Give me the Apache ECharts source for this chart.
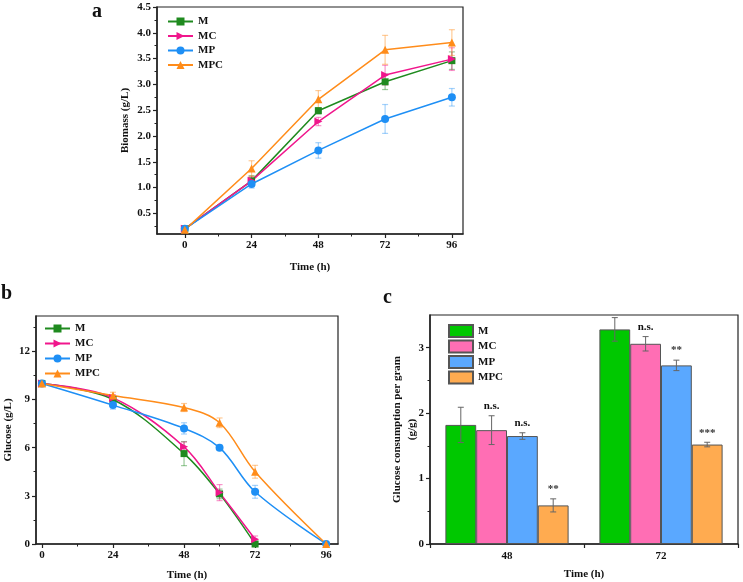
<!DOCTYPE html>
<html>
<head>
<meta charset="utf-8">
<script src="https://cdn.jsdelivr.net/npm/echarts@6/dist/echarts.min.js"></script>
<style>html,body{margin:0;padding:0;background:#fff;}#c{width:743px;height:582px;}</style>
</head>
<body>
<div id="c"></div>
<script>
// ---------- DATA ----------
var groups = ['M', 'MC', 'MP', 'MPC'];

// Panel a: biomass (g/L)
var bioTimes = [0, 24, 48, 72, 96];
var bioM   = [0.20, 1.13, 2.49, 3.05, 3.46];
var bioMC  = [0.20, 1.13, 2.28, 3.18, 3.49];
var bioMP  = [0.20, 1.07, 1.72, 2.33, 2.75];
var bioMPC = [0.18, 1.37, 2.71, 3.67, 3.81];
var bioErrM   = [0.03, 0.10, 0.06, 0.15, 0.17];
var bioErrMC  = [0.03, 0.08, 0.08, 0.19, 0.22];
var bioErrMP  = [0.03, 0.08, 0.15, 0.28, 0.17];
var bioErrMPC = [0.03, 0.15, 0.17, 0.28, 0.25];
var bioYTicks = [0.5, 1.0, 1.5, 2.0, 2.5, 3.0, 3.5, 4.0, 4.5];
var bioYMinor = [0.25, 0.75, 1.25, 1.75, 2.25, 2.75, 3.25, 3.75, 4.25];

// Panel b: glucose (g/L)
var glcTimesShort = [0, 24, 48, 60, 72];
var glcTimesLong  = [0, 24, 48, 60, 72, 96];
var glcM   = [10.0, 9.0, 5.63, 3.12, 0.0];
var glcMC  = [10.0, 9.1, 6.05, 3.2, 0.3];
var glcMP  = [10.0, 8.65, 7.2, 6.0, 3.25, 0.0];
var glcMPC = [10.0, 9.25, 8.5, 7.55, 4.5, 0.0];
var glcErrM   = [0.15, 0.2, 0.75, 0.3, 0.1];
var glcErrMC  = [0.1, 0.2, 0.3, 0.5, 0.2];
var glcErrMP  = [0.15, 0.25, 0.35, 0.15, 0.4, 0.05];
var glcErrMPC = [0.1, 0.2, 0.25, 0.3, 0.4, 0.05];
var glcYTicks = [0, 3, 6, 9, 12];
var glcYMinor = [1.5, 4.5, 7.5, 10.5, 13.5];

var timeTicks = [0, 24, 48, 72, 96];
var timeMinor = [12, 36, 60, 84];

// Panel c: glucose consumption per gram (g/g)
var consCats = ['48', '72'];
var consM   = [1.82, 3.28];
var consMC  = [1.74, 3.06];
var consMP  = [1.65, 2.73];
var consMPC = [0.59, 1.52];
var consErrM   = [0.27, 0.18];
var consErrMC  = [0.22, 0.11];
var consErrMP  = [0.05, 0.08];
var consErrMPC = [0.10, 0.035];
var sigM   = ['', ''];
var sigMC  = ['n.s.', 'n.s.'];
var sigMP  = ['n.s.', '**'];
var sigMPC = ['**', '***'];
var consYTicks = [0, 1, 2, 3];
var consYMinor = [0.5, 1.5, 2.5];

// ---------- STYLE ----------
var FONT = 'Liberation Serif';
var lineColors = {M: '#1f8a1f', MC: '#f0168c', MP: '#1e8ff5', MPC: '#ff8c1a'};
var errColors  = {M: 'rgba(31,138,31,0.45)', MC: 'rgba(240,22,140,0.45)', MP: 'rgba(30,143,245,0.4)', MPC: 'rgba(255,140,26,0.45)'};
var barColors  = {M: '#00c800', MC: '#ff6eb4', MP: '#5aa8ff', MPC: '#ffab50'};
var symbols = {
  M:   {symbol: 'rect', rotate: 0, size: 7},
  MC:  {symbol: 'triangle', rotate: -90, size: 8},
  MP:  {symbol: 'circle', rotate: 0, size: 8},
  MPC: {symbol: 'triangle', rotate: 0, size: 8}
};

var chart = echarts.init(document.getElementById('c'), null, {renderer: 'canvas'});

function valueAxis(dim, grid, min, max, ticks, nameText, nameGap, extra) {
  var ax = {
    type: 'value', gridIndex: grid, min: min, max: max,
    position: dim === 'x' ? 'bottom' : 'left',
    axisLine: {show: true, onZero: false, lineStyle: {color: '#222', width: 1.5}},
    axisTick: {show: true, inside: false, length: 4, customValues: ticks, lineStyle: {color: '#222', width: 1.2}},
    axisLabel: {show: true, customValues: ticks, color: '#111', fontFamily: FONT, fontWeight: 'bold', fontSize: 11, margin: 6},
    splitLine: {show: false},
    name: nameText, nameLocation: 'middle', nameGap: nameGap,
    nameTextStyle: {color: '#111', fontFamily: FONT, fontWeight: 'bold', fontSize: 11}
  };
  if (extra) for (var k in extra) ax[k] = extra[k];
  return ax;
}
function minorAxis(dim, grid, min, max, ticks) {
  return {
    type: 'value', gridIndex: grid, min: min, max: max,
    position: dim === 'x' ? 'bottom' : 'left',
    axisLine: {show: false, onZero: false},
    axisTick: {show: true, length: 2.5, customValues: ticks, lineStyle: {color: '#222', width: 1}},
    axisLabel: {show: false},
    splitLine: {show: false}
  };
}

function pairs(xs, ys) { return xs.map(function (x, i) { return [x, ys[i]]; }); }

function lineSeries(g, panel, xi, yi, xs, ys, smooth) {
  return {
    type: 'line', name: g + '|' + panel, xAxisIndex: xi, yAxisIndex: yi,
    data: pairs(xs, ys), smooth: smooth,
    symbol: symbols[g].symbol, symbolRotate: symbols[g].rotate, symbolSize: symbols[g].size,
    lineStyle: {color: lineColors[g], width: 1.5},
    itemStyle: {color: lineColors[g]},
    z: 3, clip: false
  };
}

function errSeries(g, panel, xi, yi, xs, ys, es) {
  var col = errColors[g];
  return {
    type: 'custom', name: g + '-err|' + panel, xAxisIndex: xi, yAxisIndex: yi, silent: true, z: 2,
    data: xs.map(function (x, i) { return [x, ys[i] - es[i], ys[i] + es[i]]; }),
    encode: {x: 0, y: [1, 2]},
    renderItem: function (params, api) {
      var x = api.value(0);
      var lo = api.coord([x, api.value(1)]);
      var hi = api.coord([x, api.value(2)]);
      var w = 3;
      var st = {stroke: col, lineWidth: 1.2};
      return {type: 'group', children: [
        {type: 'line', shape: {x1: lo[0], y1: lo[1], x2: hi[0], y2: hi[1]}, style: st},
        {type: 'line', shape: {x1: lo[0] - w, y1: lo[1], x2: lo[0] + w, y2: lo[1]}, style: st},
        {type: 'line', shape: {x1: hi[0] - w, y1: hi[1], x2: hi[0] + w, y2: hi[1]}, style: st}
      ]};
    }
  };
}

function barSeries(g, vals) {
  return {
    type: 'bar', name: g + '|c', xAxisIndex: 4, yAxisIndex: 5, data: vals,
    barGap: '0%', barCategoryGap: '20%',
    itemStyle: {color: barColors[g], borderColor: '#555', borderWidth: 1}, z: 2
  };
}

function barErrSeries(g, idx, vals, errs, sigs) {
  return {
    type: 'custom', name: g + '-err|c', xAxisIndex: 4, yAxisIndex: 5, silent: true, z: 4,
    data: vals.map(function (v, i) { return [i, v - errs[i], v + errs[i]]; }),
    encode: {x: 0, y: [1, 2]},
    renderItem: function (params, api) {
      var ci = api.value(0);
      var band = api.size([1, 0])[0];
      var bw = band * 0.8 / 4;
      var off = (idx - 1.5) * bw;
      var lo = api.coord([ci, api.value(1)]);
      var hi = api.coord([ci, api.value(2)]);
      var x = lo[0] + off;
      var w = 3;
      var st = {stroke: '#666', lineWidth: 1};
      var ch = [
        {type: 'line', shape: {x1: x, y1: lo[1], x2: x, y2: hi[1]}, style: st},
        {type: 'line', shape: {x1: x - w, y1: lo[1], x2: x + w, y2: lo[1]}, style: st},
        {type: 'line', shape: {x1: x - w, y1: hi[1], x2: x + w, y2: hi[1]}, style: st}
      ];
      var s = sigs[params.dataIndex];
      if (s) {
        ch.push({type: 'text', x: x, y: hi[1] - 4, style: {
          text: s, textAlign: 'center', textVerticalAlign: 'bottom',
          fontFamily: FONT, fontWeight: 'bold', fontSize: 11, fill: s === 'n.s.' ? '#111' : '#333'
        }});
      }
      return {type: 'group', children: ch};
    }
  };
}

var legendText = {fontFamily: FONT, fontWeight: 'bold', fontSize: 11, color: '#111'};
function fmt(n) { return n.split('|')[0]; }

var option = {
  backgroundColor: '#fff',
  animation: false,
  graphic: [
    {type: 'text', left: 92, top: 2, style: {text: 'a', fontFamily: FONT, fontWeight: 'bold', fontSize: 20, fill: '#111'}},
    {type: 'text', left: 1, top: 284, style: {text: 'b', fontFamily: FONT, fontWeight: 'bold', fontSize: 20, fill: '#111'}},
    {type: 'text', left: 383, top: 288, style: {text: 'c', fontFamily: FONT, fontWeight: 'bold', fontSize: 20, fill: '#111'}}
  ],
  grid: [
    {left: 157, top: 7, width: 306, height: 227, show: true, borderColor: '#222', borderWidth: 1.2},
    {left: 36, top: 316, width: 302, height: 228, show: true, borderColor: '#222', borderWidth: 1.2},
    {left: 430, top: 315, width: 308, height: 229, show: true, borderColor: '#222', borderWidth: 1.2}
  ],
  legend: [
    {data: groups.map(function (g) { return g + '|a'; }), formatter: fmt, orient: 'vertical', left: 167, top: 16, padding: 0,
     itemWidth: 25, itemHeight: 10, itemGap: 3.5, textStyle: legendText},
    {data: groups.map(function (g) { return g + '|b'; }), formatter: fmt, orient: 'vertical', left: 44, top: 323, padding: 0,
     itemWidth: 25, itemHeight: 10, itemGap: 4, textStyle: legendText},
    {data: groups.map(function (g) { return g + '|c'; }), formatter: fmt, orient: 'vertical', left: 448, top: 324, padding: 0,
     icon: 'rect', itemWidth: 24, itemHeight: 12, itemGap: 1.5, textStyle: legendText}
  ],
  xAxis: [
    valueAxis('x', 0, -10, 100, timeTicks, 'Time (h)', 28),
    minorAxis('x', 0, -10, 100, timeMinor),
    valueAxis('x', 1, -2, 100, timeTicks, 'Time (h)', 26),
    minorAxis('x', 1, -2, 100, timeMinor),
    {type: 'category', gridIndex: 2, data: consCats, position: 'bottom',
     axisLine: {show: true, lineStyle: {color: '#222', width: 1.5}},
     axisTick: {show: true, length: 4, lineStyle: {color: '#222', width: 1.2}},
     axisLabel: {color: '#111', fontFamily: FONT, fontWeight: 'bold', fontSize: 11, margin: 7},
     name: 'Time (h)', nameLocation: 'middle', nameGap: 25,
     nameTextStyle: {color: '#111', fontFamily: FONT, fontWeight: 'bold', fontSize: 11}}
  ],
  yAxis: [
    valueAxis('y', 0, 0.1, 4.5, bioYTicks, 'Biomass (g/L)', 26),
    minorAxis('y', 0, 0.1, 4.5, bioYMinor),
    valueAxis('y', 1, 0, 14.2, glcYTicks, 'Glucose (g/L)', 22),
    minorAxis('y', 1, 0, 14.2, glcYMinor),
    minorAxis('y', 2, 0, 3.5, consYMinor),
    valueAxis('y', 2, 0, 3.5, consYTicks, 'Glucose consumption per gram\n(g/g)', 10,
      {nameMoveOverlap: false,
       nameTextStyle: {color: '#111', fontFamily: FONT, fontWeight: 'bold', fontSize: 11, lineHeight: 15}})
  ],
  series: [
    errSeries('M', 'a', 0, 0, bioTimes, bioM, bioErrM),
    errSeries('MC', 'a', 0, 0, bioTimes, bioMC, bioErrMC),
    errSeries('MP', 'a', 0, 0, bioTimes, bioMP, bioErrMP),
    errSeries('MPC', 'a', 0, 0, bioTimes, bioMPC, bioErrMPC),
    lineSeries('M', 'a', 0, 0, bioTimes, bioM, false),
    lineSeries('MC', 'a', 0, 0, bioTimes, bioMC, false),
    lineSeries('MP', 'a', 0, 0, bioTimes, bioMP, false),
    lineSeries('MPC', 'a', 0, 0, bioTimes, bioMPC, false),

    errSeries('M', 'b', 2, 2, glcTimesShort, glcM, glcErrM),
    errSeries('MC', 'b', 2, 2, glcTimesShort, glcMC, glcErrMC),
    errSeries('MP', 'b', 2, 2, glcTimesLong, glcMP, glcErrMP),
    errSeries('MPC', 'b', 2, 2, glcTimesLong, glcMPC, glcErrMPC),
    lineSeries('M', 'b', 2, 2, glcTimesShort, glcM, 0.35),
    lineSeries('MC', 'b', 2, 2, glcTimesShort, glcMC, 0.35),
    lineSeries('MP', 'b', 2, 2, glcTimesLong, glcMP, 0.35),
    lineSeries('MPC', 'b', 2, 2, glcTimesLong, glcMPC, 0.35),

    barSeries('M', consM),
    barSeries('MC', consMC),
    barSeries('MP', consMP),
    barSeries('MPC', consMPC),
    barErrSeries('M', 0, consM, consErrM, sigM),
    barErrSeries('MC', 1, consMC, consErrMC, sigMC),
    barErrSeries('MP', 2, consMP, consErrMP, sigMP),
    barErrSeries('MPC', 3, consMPC, consErrMPC, sigMPC)
  ]
};
option.yAxis[0].axisLabel.formatter = function (v) { return v.toFixed(1); };
chart.setOption(option);
</script>
</body>
</html>
